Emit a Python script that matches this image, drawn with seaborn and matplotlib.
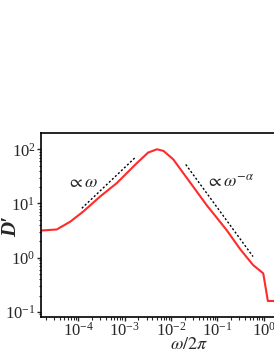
import matplotlib
matplotlib.use("Agg")
import matplotlib.pyplot as plt
from matplotlib.ticker import LogLocator, NullFormatter
import numpy as np
import pandas as pd
import seaborn as sns

# Spectrum D' vs omega/2pi (log10 values)
freq_log = [-4.8, -4.46, -4.17, -3.89, -3.53, -3.17, -2.74, -2.49, -2.30,
            -2.16, -1.95, -1.73, -1.23, -0.80, -0.51, -0.23, -0.01, 0.09, 0.30]
dprime_log = [0.50, 0.52, 0.664, 0.85, 1.125, 1.373, 1.74, 1.94, 2.0,
              1.97, 1.815, 1.557, 0.97, 0.51, 0.16, -0.135, -0.29, -0.80, -0.80]

# Guide lines: proportional to omega, and to omega^-alpha
guide1_x = [-3.92, -2.75]
guide1_y = [0.911, 1.864]
guide2_x = [-1.68, -0.23]
guide2_y = [1.72, 0.02]

df = pd.DataFrame({"freq": np.power(10.0, freq_log), "D": np.power(10.0, dprime_log)})

sns.set_style("ticks")
plt.rcParams["font.family"] = ["Liberation Serif", "DejaVu Serif"]
plt.rcParams["mathtext.fontset"] = "stix"

fig = plt.figure(figsize=(2.74, 3.55), dpi=100)
ax = fig.add_axes([41 / 274, 38.3 / 355, 296 / 274, 183.4 / 355])

sns.lineplot(data=df, x="freq", y="D", ax=ax, color="#ff2a2a", lw=1.5, sort=False)
ax.plot(np.power(10.0, guide1_x), np.power(10.0, guide1_y), color="black",
        lw=1.0, linestyle=(0, (1.5, 1.5)))
ax.plot(np.power(10.0, guide2_x), np.power(10.0, guide2_y), color="black",
        lw=1.0, linestyle=(0, (1.5, 1.5)))

ax.set_xscale("log")
ax.set_yscale("log")
ax.set_xlim(10 ** -4.8, 10 ** 1.58)
ax.set_ylim(10 ** -1.09, 10 ** 2.295)

for axis in (ax.xaxis, ax.yaxis):
    axis.set_major_locator(LogLocator(base=10, numticks=30))
    axis.set_minor_locator(LogLocator(base=10, subs=np.arange(2, 10), numticks=30))
    axis.set_minor_formatter(NullFormatter())

ax.text(10 ** -4.24, 10 ** 1.378, r"$\propto\omega$", fontsize=13, va="center", ha="left")
ax.text(10 ** -1.25, 10 ** 1.40, r"$\propto\omega^{-\alpha}$", fontsize=13, va="center", ha="left")

ax.set_xlabel(r"$\omega/2\pi$", fontsize=13, labelpad=-3)
ax.set_ylabel("D′", fontsize=15, fontweight="bold", fontstyle="italic")
ax.yaxis.set_label_coords(-0.068, 0.49)

for side in ["top", "right", "left", "bottom"]:
    ax.spines[side].set_visible(True)
    ax.spines[side].set_linewidth(1.2)
    ax.spines[side].set_color("black")

ax.tick_params(which="major", direction="out", length=3, width=1, labelsize=12, pad=1)
ax.tick_params(which="minor", direction="out", length=1.8, width=0.8)

fig.savefig("out.png", dpi=100)
